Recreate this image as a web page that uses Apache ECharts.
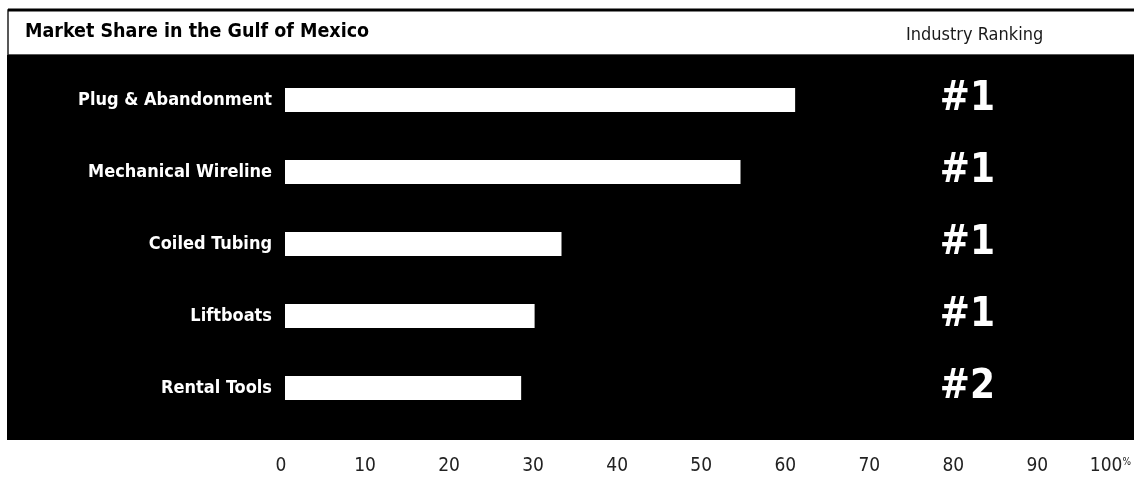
<!DOCTYPE html>
<html>
<head>
<meta charset="utf-8">
<script src="https://cdn.jsdelivr.net/npm/echarts@6/dist/echarts.min.js"></script>
<style>
html,body{margin:0;padding:0;background:#fff;}
#chart{width:1134px;height:477px;}
</style>
</head>
<body>
<div id="chart"></div>
<script>
const categories = ['Plug & Abandonment', 'Mechanical Wireline', 'Coiled Tubing', 'Liftboats', 'Rental Tools'];
const marketShare = [60.7, 54.2, 32.9, 29.7, 28.1];
const rankings = ['#1', '#1', '#1', '#1', '#2'];
const tickValues = [0, 10, 20, 30, 40, 50, 60, 70, 80, 90, 100];

const NARROW = '"Liberation Sans Narrow", "DejaVu Sans Condensed", "Roboto Condensed", sans-serif';

const chart = echarts.init(document.getElementById('chart'), null, {renderer: 'canvas'});
chart.setOption({
  animation: false,
  backgroundColor: '#ffffff',
  title: [
    {
      text: 'Market Share in the Gulf of Mexico',
      left: 25, top: 22,
      padding: 0,
      textStyle: {fontFamily: NARROW, fontWeight: 'bold', fontSize: 19.5, color: '#000'}
    },
    {
      text: 'Industry Ranking',
      left: 906, top: 26,
      padding: 0,
      textStyle: {fontFamily: NARROW, fontWeight: 'normal', fontSize: 18, color: '#1a1a1a'}
    }
  ],
  graphic: {
    elements: [
      {type: 'rect', z: -5, silent: true, shape: {x: 8, y: 10, width: 1130, height: 45}, style: {fill: '#fff', stroke: '#222', lineWidth: 1.5}},
      {type: 'line', z: -4, silent: true, shape: {x1: 8, y1: 10, x2: 1134, y2: 10}, style: {stroke: '#000', lineWidth: 3}},
      {type: 'rect', z: -3, silent: true, shape: {x: 7, y: 55, width: 1130, height: 385}, style: {fill: '#000'}}
    ]
  },
  grid: {left: 285, right: 8, top: 64, bottom: 53, containLabel: false},
  xAxis: {
    type: 'value', min: 0, max: 100, interval: 10,
    axisLine: {show: false}, axisTick: {show: false}, splitLine: {show: false},
    axisLabel: {
      margin: 33,
      fontFamily: NARROW, fontSize: 19, color: '#222',
      padding: [0, 8, 0, 0],
      formatter: function (v) { return v === 100 ? '100{p|%}' : String(v); },
      rich: {p: {fontFamily: NARROW, fontSize: 10, color: '#222', verticalAlign: 'top', padding: [0, 22, 8, 0]}}
    }
  },
  yAxis: [
    {
      type: 'category', data: categories, inverse: true,
      axisLine: {show: false}, axisTick: {show: false}, splitLine: {show: false},
      axisLabel: {margin: 13, fontFamily: NARROW, fontWeight: 'bold', fontSize: 18, color: '#fff'}
    },
    {
      type: 'category', data: rankings, inverse: true, position: 'right', offset: -158,
      axisLine: {show: false}, axisTick: {show: false}, splitLine: {show: false},
      axisLabel: {margin: 0, align: 'center', padding: [4, 0, 0, 0], fontFamily: NARROW, fontWeight: 'bold', fontSize: 40, color: '#fff'}
    }
  ],
  series: [
    {
      type: 'bar', data: marketShare, yAxisIndex: 0,
      barWidth: 24,
      itemStyle: {color: '#ffffff'},
      silent: true
    }
  ]
});
</script>
</body>
</html>
